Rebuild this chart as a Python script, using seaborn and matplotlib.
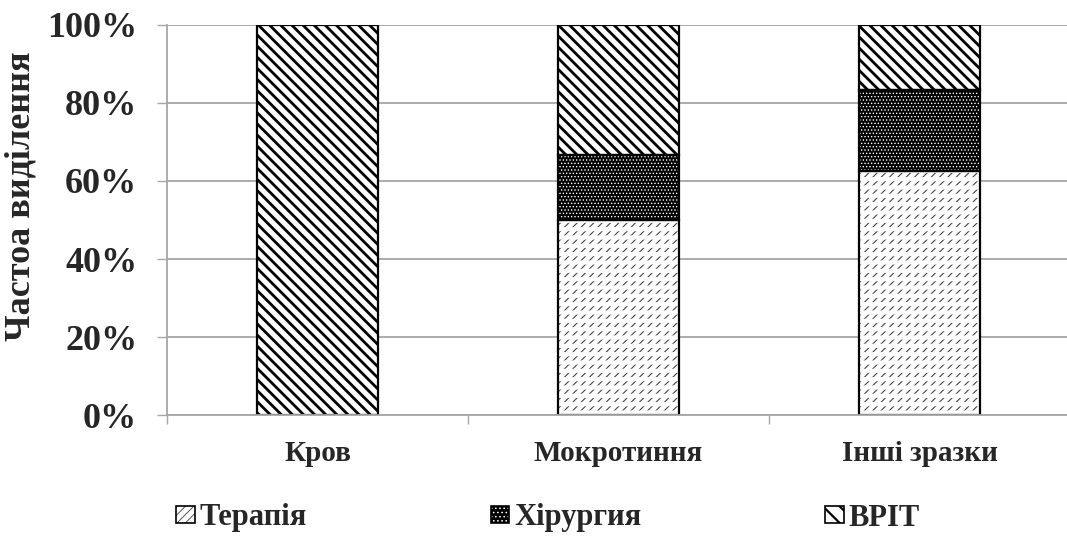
import matplotlib
matplotlib.use("Agg")
import matplotlib.pyplot as plt
import matplotlib.colors as mcolors
from matplotlib.patches import Rectangle
from matplotlib.ticker import FixedLocator
import seaborn as sns
import numpy as np

# Share of isolates by department for each specimen type (%)
categories = ["Кров", "Мокротиння", "Інші зразки"]
series_names = ["Терапія", "Хірургия", "ВРІТ"]
therapy = [0.0, 50.0, 62.5]
surgery = [0.0, 16.7, 20.8]
icu = [100.0, 33.3, 16.7]
y_ticks = [0, 20, 40, 60, 80, 100]
y_label = "Частоа виділення"

sns.set_theme(style="white")
plt.rcParams["font.family"] = ["Liberation Serif", "DejaVu Serif"]
plt.rcParams["font.weight"] = "bold"

GRID = "#a6a6a6"
BAR_W = 0.4


def style_hatch(patch, color, lw=None):
    """Give a patch its own hatch colour (and hatch line width)."""
    if hasattr(patch, "set_hatchcolor"):
        patch.set_hatchcolor(color)
    else:
        patch._hatch_color = mcolors.to_rgba(color)
    if lw is not None:
        if hasattr(patch, "set_hatch_linewidth"):
            patch.set_hatch_linewidth(lw)
        else:
            patch._hatch_linewidth = lw


def draw_layer(ax, values, bottoms, face, hatch=None, edge="none", lw=0.0,
               hatch_lw=1.0):
    # hatch line width is picked up when the bars are created
    plt.rcParams["hatch.linewidth"] = hatch_lw
    n0 = len(ax.patches)
    sns.barplot(x=categories, y=values, bottom=bottoms, width=BAR_W,
                color="black", ax=ax)
    new = ax.patches[n0:]
    for p in new:
        p.set_facecolor(face)
        p.set_edgecolor(edge)
        p.set_linewidth(lw)
        if hatch:
            p.set_hatch(hatch)
    return new


fig = plt.figure(figsize=(10.67, 5.36), dpi=100)
ax = fig.add_axes([167 / 1067, 1 - 415 / 536, 903 / 1067, 390 / 536])

therapy_a = np.array(therapy)
surgery_a = np.array(surgery)
icu_a = np.array(icu)
zero = np.zeros(len(categories))

# Терапія: fine grey diagonal strokes broken into rows
for p in draw_layer(ax, therapy_a, zero, "white", hatch="////",
                    hatch_lw=0.8):
    style_hatch(p, "#444444")
for p in draw_layer(ax, therapy_a, zero, "none", hatch="--", hatch_lw=3.0):
    style_hatch(p, "white")

# Хірургия: black with a fine white dot grid
for p in draw_layer(ax, surgery_a, therapy_a, "black", hatch=".....",
                    hatch_lw=0.6):
    style_hatch(p, "white")

# ВРІТ: bold black diagonal stripes
for p in draw_layer(ax, icu_a, therapy_a + surgery_a, "white",
                    hatch="\\\\\\", hatch_lw=2.0):
    style_hatch(p, "black")

# outlines of every segment
for vals, bots in [(therapy_a, zero), (surgery_a, therapy_a),
                   (icu_a, therapy_a + surgery_a)]:
    for p, v in zip(draw_layer(ax, vals, bots, "none", edge="black", lw=1.6),
                    vals):
        if v == 0:
            p.set_visible(False)

ax.set_xlim(-0.5, len(categories) - 0.5)
ax.set_ylim(0, 100)
ax.set_yticks(y_ticks)
ax.set_yticklabels([f"{v}%" for v in y_ticks], fontsize=26, fontweight="bold")
ax.set_xticks(range(len(categories)))
ax.set_xticklabels(categories, fontsize=21, fontweight="bold")
ax.xaxis.set_minor_locator(FixedLocator(np.arange(-0.5, len(categories), 1.0)))

ax.yaxis.grid(True, color=GRID, linewidth=1.3)
ax.xaxis.grid(False)
ax.set_axisbelow(True)
for s in ["top", "right"]:
    ax.spines[s].set_visible(False)
for s in ["left", "bottom"]:
    ax.spines[s].set_color(GRID)
    ax.spines[s].set_linewidth(1.3)

ax.tick_params(axis="y", which="major", direction="out", length=7.5,
               width=1.0, color=GRID, pad=14, left=True)
ax.tick_params(axis="x", which="major", length=0, pad=18)
ax.tick_params(axis="x", which="minor", direction="out", length=6.5,
               width=1.0, color=GRID, bottom=True)

ax.set_xlabel("")
ax.set_ylabel(y_label, fontsize=26, fontweight="bold")
ax.yaxis.set_label_coords((38 - 167) / 903, (415 - 196) / 390)

# legend
plt.rcParams["hatch.linewidth"] = 1.0
h1 = Rectangle((0, 0), 1, 1, facecolor="white", edgecolor="black",
               linewidth=1.2, hatch="////")
h2 = Rectangle((0, 0), 1, 1, facecolor="black", edgecolor="black",
               linewidth=1.2, hatch="....")
h3 = Rectangle((0, 0), 1, 1, facecolor="white", edgecolor="black",
               linewidth=1.2, hatch="\\\\")

leg = fig.legend([h1, h2, h3], series_names, loc="center", ncol=3,
                 bbox_to_anchor=(548 / 1067, 1 - 518 / 536), frameon=False,
                 prop={"size": 22, "weight": "bold"}, handlelength=0.62,
                 handleheight=0.45, handletextpad=0.16, columnspacing=6.0,
                 borderpad=0, borderaxespad=0)
for hnd, (col, hlw) in zip(leg.legend_handles,
                           [("#555555", 0.7), ("white", 0.6), ("black", 1.6)]):
    style_hatch(hnd, col, hlw)

fig.savefig("out.png", dpi=100)
